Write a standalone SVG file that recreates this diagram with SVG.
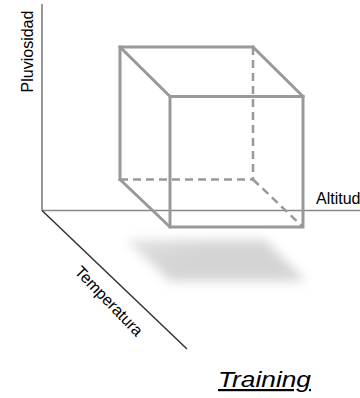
<svg xmlns="http://www.w3.org/2000/svg" width="360" height="398" viewBox="0 0 360 398">
  <style>
    .cube { fill: none; stroke: #999999; stroke-width: 3; stroke-linecap: square; }
    .dash { fill: none; stroke: #999999; stroke-width: 2.5; stroke-dasharray: 8 5; }
    .lbl { font-family: "Liberation Sans", Arial, sans-serif; font-size: 16px; fill: #000000; }
  </style>
  <defs>
    <filter id="blur" x="-20%" y="-40%" width="140%" height="180%">
      <feGaussianBlur stdDeviation="5.5"/>
    </filter>
    <linearGradient id="shade" x1="0" y1="0" x2="1" y2="0.4">
      <stop offset="0" stop-color="#e2e2e2"/>
      <stop offset="0.45" stop-color="#d4d4d4"/>
      <stop offset="1" stop-color="#d4d4d4"/>
    </linearGradient>
  </defs>
  <rect width="360" height="398" fill="#ffffff"/>
  <g id="shadow">
    <polygon points="126,240 265,240 306,281 170,281" fill="url(#shade)" filter="url(#blur)"/>
  </g>
  <g id="axes">
    <line x1="42" y1="4" x2="42" y2="210.5" stroke="#777777" stroke-width="1.5"/>
    <line x1="42" y1="210.5" x2="360" y2="210.5" stroke="#888888" stroke-width="1.5"/>
    <line x1="42" y1="210.5" x2="187" y2="349" stroke="#333333" stroke-width="1.5"/>
  </g>
  <g id="cube">
    <line class="dash" x1="253" y1="47" x2="253" y2="179.5"/>
    <line class="dash" x1="120" y1="179.5" x2="253" y2="179.5"/>
    <line class="dash" x1="253" y1="179.5" x2="303" y2="227"/>
    <polyline class="cube" points="120,179.5 120,47 253,47"/>
    <line class="cube" x1="120" y1="47" x2="170" y2="96.5"/>
    <line class="cube" x1="253" y1="47" x2="303" y2="96.5"/>
    <line class="cube" x1="120" y1="179.5" x2="170" y2="227"/>
    <rect class="cube" x="170" y="96.5" width="133" height="130.5"/>
  </g>
  <g id="labels">
    <text class="lbl" transform="translate(33,51.5) rotate(-90)" text-anchor="middle">Pluviosidad</text>
    <text class="lbl" x="316" y="204">Altitud</text>
    <text class="lbl" font-size="15" transform="translate(109,301) rotate(46)" text-anchor="middle" dominant-baseline="central">Temperatura</text>
    <text x="218" y="387" font-family="Liberation Sans, Arial, sans-serif" font-size="22" font-style="italic" text-decoration="underline" textLength="93" lengthAdjust="spacingAndGlyphs">Training</text>
  </g>
</svg>
